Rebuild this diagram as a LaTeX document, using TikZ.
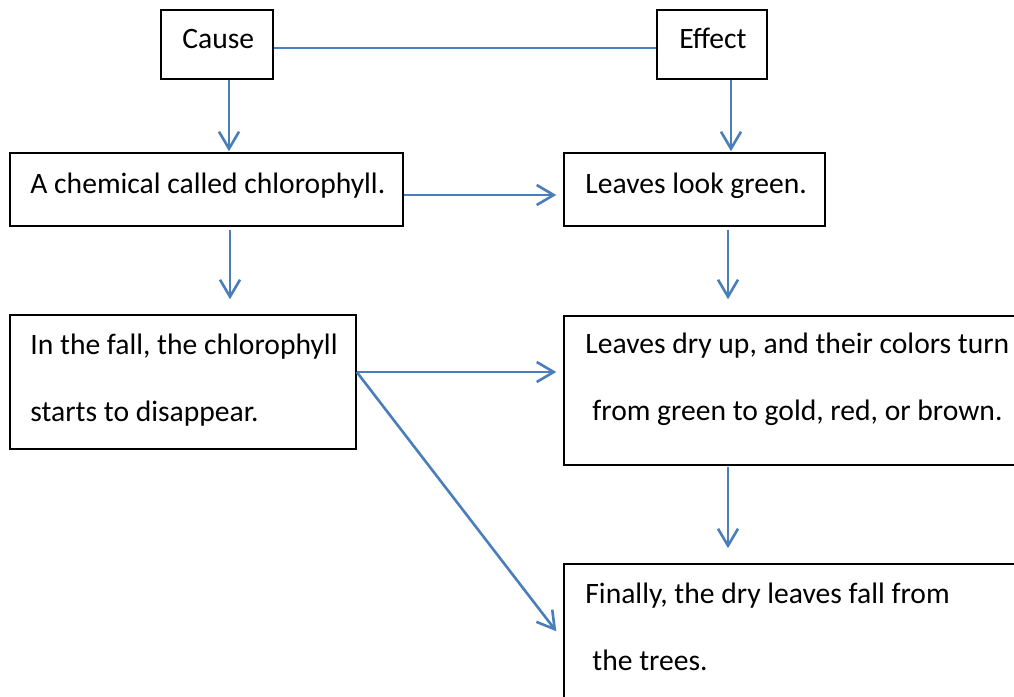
\documentclass[tikz,border=0pt]{standalone}
\usepackage{fontspec}
\setmainfont{Carlito}
\usetikzlibrary{arrows.meta,fit}
\definecolor{conblue}{RGB}{74,126,187}
\begin{document}
\begin{tikzpicture}[x=0.5pt,y=-0.5pt,
  box/.style={draw=black,line width=0.75pt,inner sep=0pt},
  txt/.style={anchor=base west,inner sep=0pt,font=\fontsize{14.8}{17}\selectfont},
  arr/.style={draw=conblue,line width=1.3pt,-{Straight Barb[length=8.5pt,width=10pt,line width=1.3pt]}},
  con/.style={draw=conblue,line width=1.3pt}]
\useasboundingbox (0,0) rectangle (1014,697);
\fill[white] (0,0) rectangle (1014,697);
\clip (0,0) rectangle (1014,697);
% boxes
\node[box, fit={(161,10) (273,79)}] (cause) {};
\node[box, fit={(657,10) (767,79)}] (effect) {};
\node[box, fit={(10,153) (403,226)}] (chem) {};
\node[box, fit={(564,153) (825,226)}] (green) {};
\node[box, fit={(10,315) (356,449)}] (fall) {};
\node[box, fit={(564,316) (1040,465)}] (dry) {};
\node[box, fit={(564,564) (1040,730)}] (final) {};
% texts
\node[txt] (tcause) at (182,48) {Cause};
\node[txt] (teffect) at (679,48) {Effect};
\node[txt] (tchem) at (30,193) {A chemical called chlorophyll.};
\node[txt] (tgreen) at (585,193) {Leaves look green.};
\node[txt] (tfalla) at (30,354) {In the fall, the chlorophyll};
\node[txt] (tfallb) at (30,421) {starts to disappear.};
\node[txt] (tdrya) at (585,353) {Leaves dry up, and their colors turn};
\node[txt] (tdryb) at (592,420) {from green to gold, red, or brown.};
\node[txt] (tfina) at (585,603) {Finally, the dry leaves fall from};
\node[txt] (tfinb) at (592,670) {the trees.};
% connectors
\draw[con] ([yshift=-1.75pt]cause.east) -- ([yshift=-1.75pt]effect.west);
\draw[arr] ([xshift=6pt]cause.south) -- ([xshift=6pt,yshift=0.5pt]cause.south |- chem.north);
\draw[arr] ([xshift=9.5pt]effect.south) -- ([xshift=9.5pt,yshift=0.5pt]effect.south |- green.north);
\draw[arr] ([yshift=-2.75pt]chem.east) -- ([xshift=-3.5pt,yshift=-2.75pt]green.west);
\draw[arr] ([xshift=11.75pt,yshift=-1.5pt]chem.south) -- ([xshift=11.75pt,yshift=7.5pt]chem.south |- fall.north);
\draw[arr] ([xshift=16.75pt,yshift=-1.5pt]green.south) -- ([xshift=16.75pt,yshift=8pt]green.south |- dry.north);
\draw[arr] ([xshift=16.75pt,yshift=-0.5pt]dry.south -| green.south) -- ([xshift=16.75pt,yshift=7.5pt]green.south |- final.north);
\coordinate (fallout) at ([yshift=5pt]fall.east);
\draw[arr] (fallout) -- ([xshift=-3.5pt]fallout -| dry.west);
\draw[arr] (fallout) -- ([xshift=-3.5pt,yshift=-34pt]final.north west);
\end{tikzpicture}
\end{document}
